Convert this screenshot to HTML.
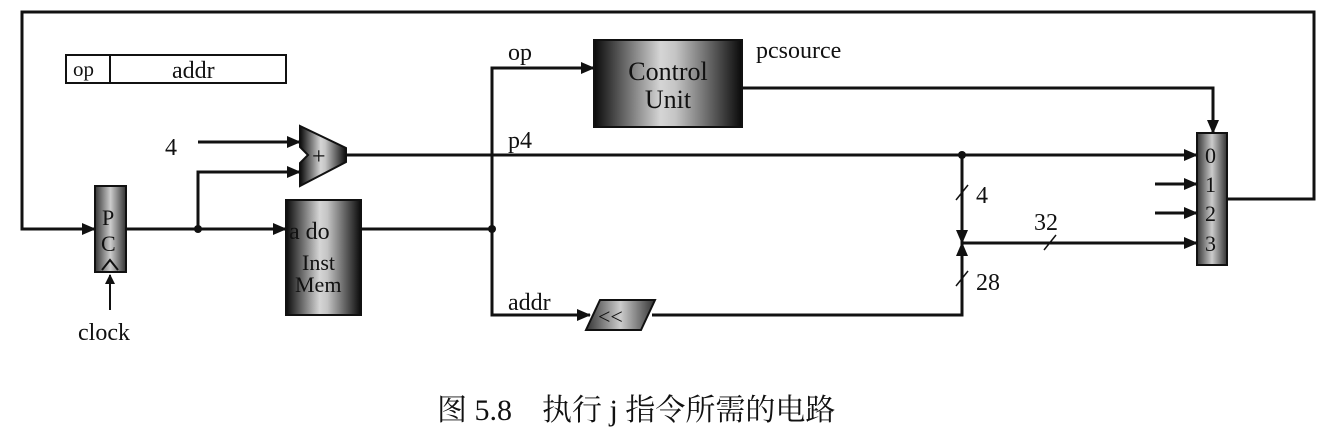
<!DOCTYPE html>
<html><head><meta charset="utf-8"><style>body{margin:0;background:#fff}svg{display:block}</style></head><body>
<svg width="1332" height="436" viewBox="0 0 1332 436" xmlns="http://www.w3.org/2000/svg" font-family="Liberation Serif, serif" fill="#111">
<defs>
<linearGradient id="g" x1="0" x2="1"><stop offset="0" stop-color="#0a0a0a"/><stop offset="0.45" stop-color="#d5d5d5"/><stop offset="0.55" stop-color="#c5c5c5"/><stop offset="1" stop-color="#0a0a0a"/></linearGradient>
<linearGradient id="g2" x1="0" x2="1"><stop offset="0" stop-color="#333"/><stop offset="0.5" stop-color="#ccc"/><stop offset="1" stop-color="#333"/></linearGradient>
<marker id="a" markerWidth="10" markerHeight="10" refX="9" refY="5" orient="auto" markerUnits="userSpaceOnUse"><path d="M0,0 L10,5 L0,10z" fill="#111"/></marker>
<marker id="b" markerWidth="14" markerHeight="12" refX="13" refY="6" orient="auto" markerUnits="userSpaceOnUse"><path d="M0,0 L14,6 L0,12z" fill="#111"/></marker>
</defs>
<g stroke="#111" stroke-width="3" fill="none">
<polyline points="1228,199 1314,199 1314,12 22,12 22,229 95,229" marker-end="url(#b)"/>
<line x1="110" y1="310" x2="110" y2="275" stroke-width="2" marker-end="url(#a)"/>
<line x1="126" y1="229" x2="286" y2="229" marker-end="url(#b)"/>
<polyline points="198,229 198,172 300,172" marker-end="url(#b)"/>
<line x1="198" y1="142" x2="300" y2="142" marker-end="url(#b)"/>
<line x1="346" y1="155" x2="1197" y2="155" marker-end="url(#b)"/>
<line x1="361" y1="229" x2="492" y2="229"/>
<polyline points="492,229 492,68 594,68" marker-end="url(#b)"/>
<polyline points="492,229 492,315 590,315" marker-end="url(#b)"/>
<polyline points="742,88 1213,88 1213,133" marker-end="url(#b)"/>
<polyline points="652,315 962,315 962,243" marker-end="url(#b)"/>
<line x1="962" y1="155" x2="962" y2="243" marker-end="url(#b)"/>
<line x1="962" y1="243" x2="1197" y2="243" marker-end="url(#b)"/>
<line x1="1155" y1="184" x2="1197" y2="184" marker-end="url(#b)"/>
<line x1="1155" y1="213" x2="1197" y2="213" marker-end="url(#b)"/>
<g stroke-width="1.5"><line x1="956" y1="200" x2="968" y2="185"/><line x1="956" y1="286" x2="968" y2="271"/><line x1="1044" y1="250" x2="1056" y2="235"/></g>
</g>
<circle cx="198" cy="229" r="4"/><circle cx="492" cy="229" r="4"/><circle cx="962" cy="155" r="4"/>
<rect x="66" y="55" width="220" height="28" fill="none" stroke="#111" stroke-width="2"/>
<line x1="110" y1="55" x2="110" y2="83" stroke="#111" stroke-width="2"/>
<text x="73" y="76" font-size="21">op</text><text x="172" y="78" font-size="24">addr</text>
<rect x="95" y="186" width="31" height="86" fill="url(#g2)" stroke="#111" stroke-width="2"/>
<text x="102" y="225" font-size="22">P</text><text x="101" y="251" font-size="22">C</text>
<polyline points="102,270 110,260 118,270" fill="none" stroke="#111" stroke-width="2"/>
<text x="78" y="340" font-size="24">clock</text>
<path d="M300,126 L346,148 L346,162 L300,186 L300,163 L308,155 L300,147z" fill="url(#g)" stroke="#111" stroke-width="2"/>
<text x="312" y="164" font-size="24">+</text>
<text x="165" y="155" font-size="24">4</text>
<rect x="286" y="200" width="75" height="115" fill="url(#g)" stroke="#111" stroke-width="2"/>
<text x="289" y="239" font-size="24">a  do</text>
<text x="302" y="270" font-size="22">Inst</text><text x="295" y="292" font-size="22">Mem</text>
<rect x="594" y="40" width="148" height="87" fill="url(#g)" stroke="#111" stroke-width="2"/>
<text x="668" y="80" font-size="26" text-anchor="middle">Control</text><text x="668" y="108" font-size="26" text-anchor="middle">Unit</text>
<text x="508" y="60" font-size="24">op</text><text x="508" y="148" font-size="24">p4</text>
<text x="756" y="58" font-size="24">pcsource</text>
<text x="508" y="310" font-size="24">addr</text>
<path d="M600,300 L655,300 L641,330 L586,330z" fill="url(#g2)" stroke="#111" stroke-width="2"/>
<text x="598" y="324" font-size="22">&lt;&lt;</text>
<text x="976" y="203" font-size="24">4</text><text x="976" y="290" font-size="24">28</text><text x="1034" y="230" font-size="24">32</text>
<rect x="1197" y="133" width="30" height="132" fill="url(#g2)" stroke="#111" stroke-width="2"/>
<g font-size="22"><text x="1205" y="163">0</text><text x="1205" y="192">1</text><text x="1205" y="221">2</text><text x="1205" y="251">3</text></g>
<text x="437" y="420" font-size="30" font-family="Liberation Serif, 'Noto Serif CJK SC', serif">图 5.8　执行 j 指令所需的电路</text>
</svg>
</body></html>
